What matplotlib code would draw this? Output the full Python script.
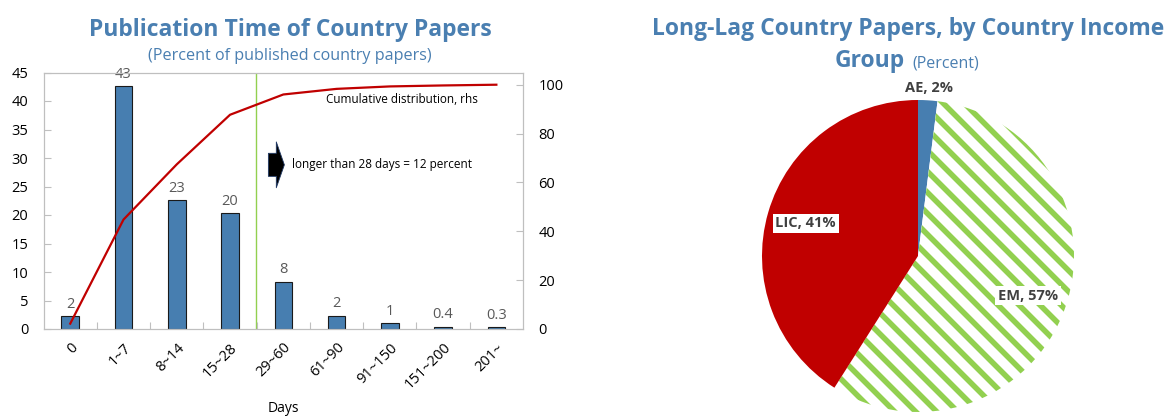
"""Country paper publication lags: distribution by days and long-lag share by income group."""

import matplotlib.pyplot as plt
import numpy as np

# the canvas is rendered at 126 dpi so the hatch stripes come out at the right pitch;
# sizes below are written for a 100-dpi canvas and converted with pt()
DPI = 126


def pt(v):
    return v * 100 / DPI


plt.rcParams["font.family"] = ["Open Sans", "DejaVu Sans"]
plt.rcParams["hatch.linewidth"] = pt(4.0)

# publication time distribution (percent of published country papers)
DAY_BINS = ["0", "1~7", "8~14", "15~28", "29~60", "61~90", "91~150", "151~200", "201~"]
SHARE = [2.2, 42.6, 22.6, 20.3, 8.3, 2.3, 1.0, 0.4, 0.3]
CUMULATIVE = [2.2, 44.8, 67.4, 87.7, 96.0, 98.3, 99.3, 99.7, 100.0]

# long-lag papers by income group (percent)
GROUPS = ["AE", "EM", "LIC"]
GROUP_SHARE = [2, 57, 41]

BLUE = "#477eb0"
RED = "#c00000"
GREEN = "#92d050"
TITLE_BLUE = "#4a7fb1"
GREY = "#bfbfbf"
LABEL_GREY = "#595959"
DARK = "#404040"

W, H = 1167, 419
fig = plt.figure(figsize=(W / DPI, H / DPI), dpi=DPI)

# ---- left panel: bars + cumulative line ----
ax = fig.add_axes([43.6 / W, 1 - 329 / H, (523 - 43.6) / W, (329 - 72.5) / H])
x = np.arange(len(DAY_BINS))
ax.bar(x, SHARE, width=0.33, color=BLUE, edgecolor="#1a1a1a", linewidth=pt(0.8), zorder=2)
for xi, v in zip(x, SHARE):
    txt = f"{v:.0f}" if v >= 1 else f"{v:.1f}"
    ax.text(xi, v + 0.8, txt, ha="center", va="bottom", fontsize=pt(10.5), color=LABEL_GREY)

ax.set_xlim(-0.5, len(DAY_BINS) - 0.5)
ax.set_ylim(0, 45)
ax.set_yticks(range(0, 46, 5))
ax.set_xticks(x)
ax.set_xticklabels(DAY_BINS, rotation=45, ha="right", rotation_mode="anchor", fontsize=pt(10.5))
ax.set_xticks(np.arange(0.5, len(DAY_BINS) - 0.5, 1), minor=True)
ax.tick_params(axis="x", which="major", length=0, pad=pt(8))
ax.tick_params(axis="x", which="minor", direction="in", length=pt(5), width=pt(0.8), color=GREY)
ax.tick_params(axis="y", direction="in", length=pt(5), width=pt(0.8), color=GREY,
               labelsize=pt(10.5), pad=pt(11))
for s in ax.spines.values():
    s.set_color(GREY)
    s.set_linewidth(pt(0.8))
ax.set_xlabel("Days", fontsize=pt(10), labelpad=pt(6))

ax.axvline(3.48, color=GREEN, linewidth=pt(1.0), zorder=1)

ax2 = ax.twinx()
ax2.plot(x, CUMULATIVE, color=RED, linewidth=pt(1.6), zorder=3)
ax2.set_ylim(0, 105)
ax2.set_yticks(range(0, 101, 20))
ax2.tick_params(axis="y", direction="in", length=pt(5), width=pt(0.8), color=GREY,
                labelsize=pt(10.5), pad=pt(11))
for s in ax2.spines.values():
    s.set_color(GREY)
    s.set_linewidth(pt(0.8))
ax2.text(7.66, 93.9, "Cumulative distribution, rhs", ha="right", va="center", fontsize=pt(8.5))
ax2.annotate(
    "",
    xy=(4.02, 67.2),
    xytext=(3.72, 67.2),
    arrowprops=dict(
        arrowstyle="simple,head_length=0.58,head_width=3.3,tail_width=1.66",
        mutation_scale=pt(10),
        fc="black",
        ec="#1f3864",
        lw=pt(0.6),
        shrinkA=0,
        shrinkB=0,
    ),
)
ax2.text(4.17, 67.2, "longer than 28 days = 12 percent", ha="left", va="center", fontsize=pt(8.5))

fig.text(290.5 / W, 1 - 36 / H, "Publication Time of Country Papers", ha="center", va="baseline",
         fontsize=pt(16.5), fontweight="bold", color=TITLE_BLUE)
fig.text(290 / W, 1 - 60 / H, "(Percent of published country papers)", ha="center", va="baseline",
         fontsize=pt(11.6), color=TITLE_BLUE)

# ---- right panel: pie by income group ----
cx, cy, r = 918, 256, 156
axp = fig.add_axes([(cx - r) / W, 1 - (cy + r) / H, 2 * r / W, 2 * r / H])
wedges, texts = axp.pie(
    GROUP_SHARE,
    labels=[f"{g}, {v}%" for g, v in zip(GROUPS, GROUP_SHARE)],
    colors=[BLUE, "white", RED],
    startangle=90,
    counterclock=False,
    labeldistance=0.75,
    wedgeprops=dict(linewidth=0),
    textprops=dict(fontsize=pt(10.5), fontweight="bold", color=DARK),
)
wedges[1].set_edgecolor(GREEN)
wedges[1].set_hatch("\\\\")
wedges[1].set_linewidth(0)
axp.set_xlim(-1, 1)
axp.set_ylim(-1, 1)
axp.set_aspect("equal")

for t in texts:
    t.set_ha("center")
    t.set_va("center")
# AE slice is too thin for an inside label; put it above the pie
ae_x, ae_y = texts[0].get_position()
texts[0].set_position((ae_x / 0.75 * 1.08, ae_y / 0.75 * 1.08))
for t in texts[1:]:
    t.set_bbox(dict(facecolor="white", edgecolor="none", pad=pt(2)))

fig.text(908 / W, 1 - 35 / H, "Long-Lag Country Papers, by Country Income", ha="center", va="baseline",
         fontsize=pt(16.5), fontweight="bold", color=TITLE_BLUE)
fig.text(905 / W, 1 - 67 / H, "Group", ha="right", va="baseline",
         fontsize=pt(16.5), fontweight="bold", color=TITLE_BLUE)
fig.text(912 / W, 1 - 67 / H, "(Percent)", ha="left", va="baseline",
         fontsize=pt(11.5), color=TITLE_BLUE)

fig.savefig("out.png", dpi=DPI)
plt.close(fig)
